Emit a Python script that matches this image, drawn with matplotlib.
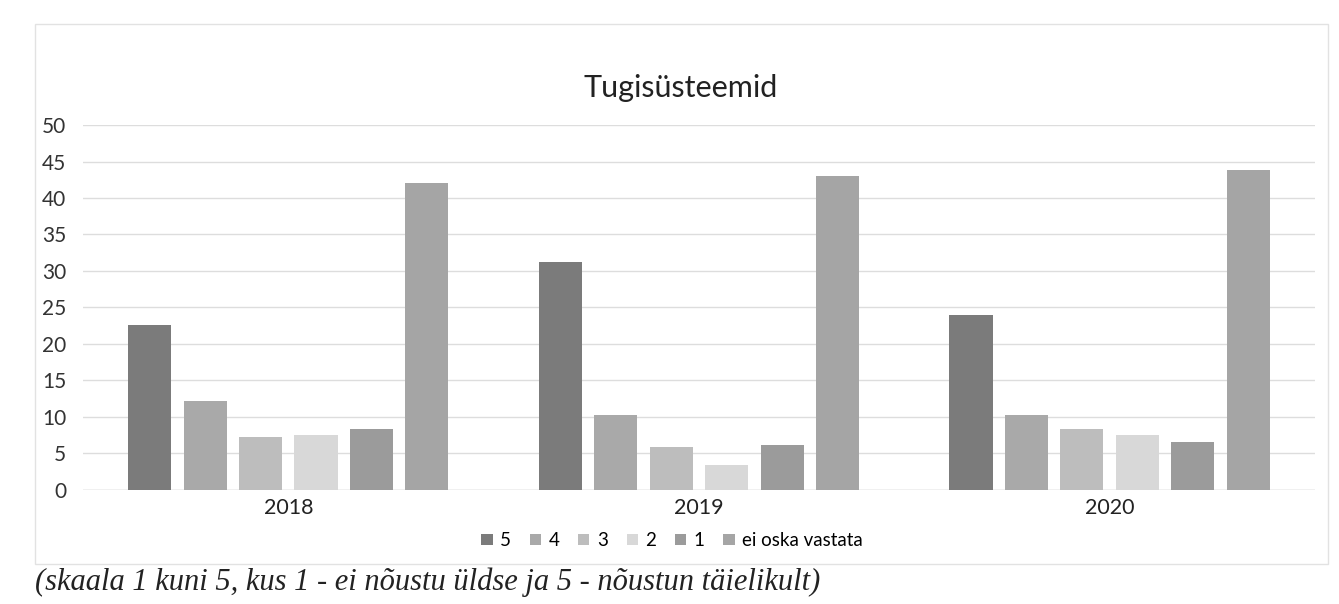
import matplotlib
matplotlib.use("Agg")
import matplotlib.pyplot as plt
from matplotlib.patches import Rectangle
import numpy as np

years = ["2018", "2019", "2020"]
series_names = ["5", "4", "3", "2", "1", "ei oska vastata"]
s5 = [22.6, 31.2, 23.9]
s4 = [12.2, 10.3, 10.3]
s3 = [7.2, 5.9, 8.3]
s2 = [7.5, 3.4, 7.5]
s1 = [8.3, 6.2, 6.5]
s_ei = [42.1, 43.0, 43.9]
yticks = [0, 5, 10, 15, 20, 25, 30, 35, 40, 45, 50]
title = "Tugisüsteemid"
caption = "(skaala 1 kuni 5, kus 1 - ei nõustu üldse ja 5 - nõustun täielikult)"

series = [s5, s4, s3, s2, s1, s_ei]
colors = ["#7b7b7b", "#a9a9a9", "#bdbdbd", "#d8d8d8", "#9b9b9b", "#a5a5a5"]

plt.rcParams['font.family'] = ['Lato', 'DejaVu Sans']

fig = plt.figure(figsize=(13.39, 6.04), dpi=100)
fig.patch.set_facecolor("white")

# chart-area border
fig.patches.append(Rectangle((0.026, 0.066), 0.966, 0.894, transform=fig.transFigure,
                             fill=False, edgecolor="#e2e2e2", linewidth=1.0))

ax = fig.add_axes([0.062, 0.189, 0.920, 0.604])
x = np.arange(len(years))
pitch = 0.135
width = 0.105
for i, (vals, c, name) in enumerate(zip(series, colors, series_names)):
    ax.bar(x + (i - 2.5) * pitch, vals, width=width, color=c, label=name, zorder=3)

ax.set_xlim(-0.5, 2.5)
ax.set_ylim(0, 50)
ax.set_yticks(yticks)
ax.set_yticklabels([str(t) for t in yticks], fontsize=15, color="#333333")
ax.set_xticks(x)
ax.set_xticklabels(years, fontsize=15.5, color="#222222")
ax.tick_params(axis="y", length=0, pad=12)
ax.tick_params(axis="x", length=0, pad=6)
ax.yaxis.grid(True, color="#dddddd", linewidth=1.0, zorder=0)
for sp in ax.spines.values():
    sp.set_visible(False)
ax.axhline(0, color="#d0d0d0", linewidth=1.0, zorder=2)

fig.text(0.508, 0.855, title, ha="center", va="center", fontsize=22, color="#222222")

handles, labels = ax.get_legend_handles_labels()
fig.legend(handles, labels, loc="center", bbox_to_anchor=(0.502, 0.105), ncol=6,
           frameon=False, fontsize=13.5, handlelength=0.6, handleheight=0.6,
           handletextpad=0.4, columnspacing=1.0)

fig.text(0.026, 0.024, caption, ha="left", va="baseline", fontsize=22,
         family=["Liberation Serif", "DejaVu Serif"], style="italic", color="#222222")

fig.savefig("out.png", dpi=100, facecolor="white")
